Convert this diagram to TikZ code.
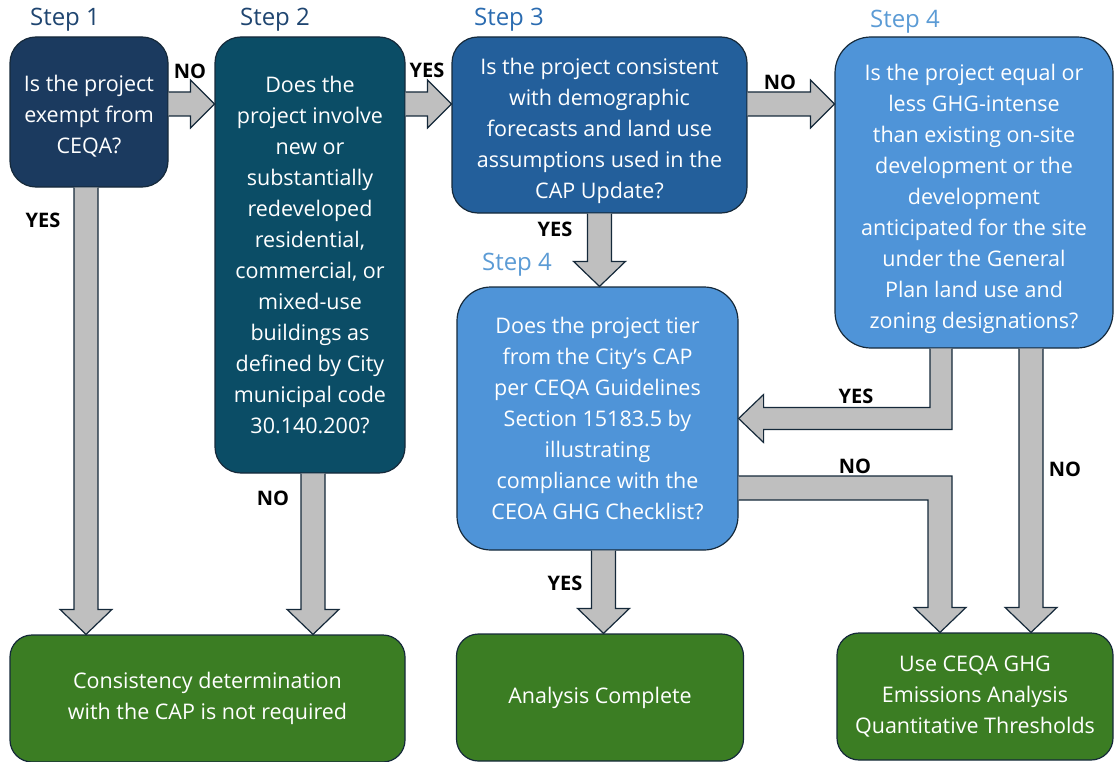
\documentclass[tikz,border=0pt]{standalone}
\usepackage{fontspec}
\setmainfont{Open Sans}
\usetikzlibrary{calc}

\definecolor{stepone}{HTML}{1B3A5F}
\definecolor{steptwo}{HTML}{0B4D66}
\definecolor{stepthree}{HTML}{235F9B}
\definecolor{stepfour}{HTML}{4F94D8}
\definecolor{resultgreen}{HTML}{3B7D23}
\definecolor{edgedark}{HTML}{15293A}
\definecolor{arrowgray}{HTML}{BFBFBF}
\definecolor{labelnavy}{HTML}{1F4570}
\definecolor{labelblue}{HTML}{2A6BB0}
\definecolor{labellight}{HTML}{5B9BD5}

\newcommand{\fatdown}[2]{\filldraw[fatarrow] let \p1=(#1), \p2=(#2) in (\x1-12pt,\y1) -- (\x1-12pt,\y2+25pt) -- (\x1-26pt,\y2+25pt) -- (\x1,\y2) -- (\x1+26pt,\y2+25pt) -- (\x1+12pt,\y2+25pt) -- (\x1+12pt,\y1);}
\newcommand{\fatright}[2]{\filldraw[fatarrow] let \p1=(#1), \p2=(#2) in (\x1,\y1+12pt) -- (\x2-24pt,\y1+12pt) -- (\x2-24pt,\y1+24pt) -- (\x2,\y1) -- (\x2-24pt,\y1-24pt) -- (\x2-24pt,\y1-12pt) -- (\x1,\y1-12pt);}

\begin{document}
\begin{tikzpicture}[x=1pt, y=-1pt,
	qtext/.style={text=white, align=center, inner sep=0pt, font=\fontsize{21.5pt}{31pt}\selectfont},
	qbox/.style={qtext, draw=edgedark, line width=1.2pt, rounded corners=26pt},
	endbox/.style={qbox, fill=resultgreen, rounded corners=22pt, minimum height=127pt},
	fatarrow/.style={draw=edgedark, fill=arrowgray, line width=1.2pt, line join=miter},
	answer/.style={font=\bfseries\fontsize{20pt}{20pt}\selectfont},
	steplabel/.style={font=\fontsize{24pt}{24pt}\selectfont}]
				\useasboundingbox (0,0) rectangle (1115,762);
				\node[qbox, fill=stepone, minimum width=158pt, minimum height=150pt, label={[qtext, yshift=-4pt]center:{Is the project\\exempt from\\CEQA?}}] (s1) at (89,112) {};
				\node[qbox, fill=steptwo, minimum width=190pt, minimum height=436pt] (s2) at (310,255) {Does the\\project involve\\new or\\substantially\\redeveloped\\residential,\\commercial, or\\mixed-use\\buildings as\\defined by City\\municipal code\\30.140.200?};
				\node[qbox, fill=stepthree, minimum width=295pt, minimum height=176pt, label={[qtext, yshift=-6pt]center:{Is the project consistent\\with demographic\\forecasts and land use\\assumptions used in the\\CAP Update?}}] (s3) at (599.5,125) {};
				\node[qbox, fill=stepfour, rounded corners=36pt, minimum width=278pt, minimum height=311pt, label={[qtext, yshift=-6pt]center:{Is the project equal or\\less GHG-intense\\than existing on-site\\development or the\\development\\anticipated for the site\\under the General\\Plan land use and\\zoning designations?}}] (s4) at (974,192.5) {};
				\node[qbox, fill=stepfour, rounded corners=34pt, minimum width=281pt, minimum height=263pt] (tier) at (597.5,418.5) {Does the project tier\\from the City’s CAP\\per CEQA Guidelines\\Section 15183.5 by\\illustrating\\compliance with the\\CEOA GHG Checklist?};
				\node[endbox, minimum width=395pt] (none) at (207.5,698.5) {Consistency determination\\with the CAP is not required};
				\node[endbox, minimum width=287pt] (done) at (600,697.5) {Analysis Complete};
				\node[endbox, minimum width=276pt] (thresh) at (975,696.5) {Use CEQA GHG\\Emissions Analysis\\Quantitative Thresholds};

				\node[steplabel, text=labelnavy] (l1) at (65,20) {Step 1};
				\node[steplabel, text=labelnavy] (l2) at (275,20) {Step 2};
				\node[steplabel, text=labelblue] (l3) at (509,20) {Step 3};
				\node[steplabel, text=labellight] (l4) at (905,22) {Step 4};
				\node[steplabel, text=labellight] (l5) at (517,265) {Step 4};

				\fatright{[yshift=8pt]s1.east}{s2.west}
				\fatright{[yshift=151pt]s2.east}{s3.west}
				\fatright{[yshift=21pt]s3.east}{s4.west}
				\fatdown{s3.south}{tier.north}
				\fatdown{[xshift=-3pt]s1.south}{none.north}
				\fatdown{[xshift=3pt]s2.south}{none.north}
				\fatdown{[xshift=6pt]tier.south}{done.north}
				\fatdown{[xshift=57pt]s4.south}{thresh.north}
				\filldraw[fatarrow] let \p1=([xshift=-33pt]s4.south), \p2=(tier.east) in (\x1-11pt,\y1) |- (\x2+25pt,\y2+11pt) -- (\x2+25pt,\y2+24pt) -- (\x2,\y2) -- (\x2+25pt,\y2-24pt) -- (\x2+25pt,\y2-11pt) -| (\x1+11pt,\y1);
				\filldraw[fatarrow] let \p1=([yshift=-69.5pt]tier.east), \p2=([xshift=-35pt]thresh.north) in (\x1,\y1+12pt) -| (\x2+12pt,\y2+25pt) -- (\x2+26pt,\y2+25pt) -- (\x2,\y2) -- (\x2-26pt,\y2+25pt) -- (\x2-12pt,\y2+25pt) |- (\x1,\y1-12pt);

				\node[answer] (a1) at (190,71) {NO};
				\node[answer] (a2) at (427,70) {YES};
				\node[answer] (a3) at (780,82) {NO};
				\node[answer] (a4) at (555,229) {YES};
				\node[answer] (a5) at (43,220) {YES};
				\node[answer] (a6) at (273,498) {NO};
				\node[answer] (a7) at (856,396) {YES};
				\node[answer] (a8) at (855,466) {NO};
				\node[answer] (a9) at (1065,469) {NO};
				\node[answer] (a10) at (565,583) {YES};
			\end{tikzpicture}
\end{document}
